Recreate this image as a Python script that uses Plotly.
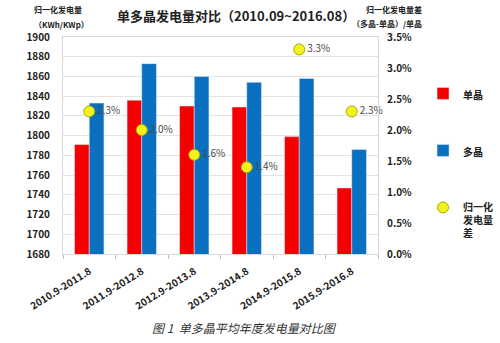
import plotly.graph_objects as go

categories = ["2010.9-2011.8", "2011.9-2012.8", "2012.9-2013.8",
              "2013.9-2014.8", "2014.9-2015.8", "2015.9-2016.8"]
mono = [1791, 1836, 1830, 1829, 1799, 1747]
poly = [1833, 1873, 1860, 1854, 1858, 1786]
diff = [0.023, 0.020, 0.016, 0.014, 0.033, 0.023]
diff_labels = ["2.3%", "2.0%", "1.6%", "1.4%", "3.3%", "2.3%"]

FONT = "Noto Sans CJK SC"
BOLD10 = dict(size=10, color="#222222", family=FONT, weight="bold")

fig = go.Figure()
fig.add_trace(go.Bar(x=categories, y=mono, name="<b>单晶</b>", marker_color="#F50000",
                     legendgroup="a"))
fig.add_trace(go.Bar(x=categories, y=poly, name="<b>多晶</b>", marker_color="#0A6FBF",
                     legendgroup="b"))
fig.add_trace(go.Scatter(x=categories, y=diff, yaxis="y2", name="<b>归一化<br>发电量<br>差</b>",
                         mode="markers+text", text=diff_labels, textposition="middle right",
                         textfont=dict(size=10, color="#4A4A4A", family=FONT),
                         marker=dict(size=11, color="#F2F21E", line=dict(color="#A8A800", width=1)),
                         cliponaxis=False, legendgroup="c"))

fig.update_layout(
    width=500, height=343,
    margin=dict(l=63, r=122, t=37, b=89, autoexpand=False),
    paper_bgcolor="white", plot_bgcolor="white",
    font=dict(family=FONT, color="#222222"),
    barmode="group", bargap=0.44, bargroupgap=0,
    showlegend=True,
    legend=dict(x=1.143, y=0.80, xanchor="left", yanchor="top", valign="top",
                tracegroupgap=38, font=dict(size=10, color="#222222", family=FONT),
                itemwidth=30, bgcolor="rgba(0,0,0,0)"),
    xaxis=dict(tickangle=-32, tickfont=BOLD10, ticklabelstandoff=7,
               ticks="outside", tickson="boundaries", ticklen=4, tickcolor="#BBBBBB",
               showline=True, linecolor="#D9D9D9", mirror=True, showgrid=False),
    yaxis=dict(range=[1680, 1900], dtick=20, tickfont=BOLD10, ticklabelstandoff=10,
               gridcolor="#E3E3E3", showline=True, linecolor="#D9D9D9", mirror=True,
               tickformat="d"),
    yaxis2=dict(range=[0, 0.035], dtick=0.005, tickformat=".1%", overlaying="y", side="right",
                showgrid=False, tickfont=BOLD10, ticklabelstandoff=8),
    annotations=[
        dict(text="<b>单多晶发电量对比（2010.09~2016.08）</b>", xref="paper", yref="paper",
             x=0.55, y=1.0, yshift=22, yanchor="middle", showarrow=False,
             font=dict(size=13, color="#222222")),
        dict(text="<b>归一化发电量</b>", xref="paper", yref="paper", x=-0.098, y=1.0, yshift=28,
             yanchor="middle", showarrow=False, font=dict(size=8, color="#222222")),
        dict(text="<b>（KWh/KWp）</b>", xref="paper", yref="paper", x=-0.098, y=1.0, yshift=13,
             yanchor="middle", showarrow=False, font=dict(size=8, color="#222222")),
        dict(text="<b>归一化发电量差</b>", xref="paper", yref="paper", x=1.146, y=1.0, yshift=28,
             yanchor="middle", showarrow=False, font=dict(size=8, color="#222222")),
        dict(text="<b>（多晶-单晶）/单晶</b>", xref="paper", yref="paper", x=1.146, y=1.0, yshift=14,
             yanchor="middle", showarrow=False, font=dict(size=8, color="#222222")),
        dict(text="<i>图 1  单多晶平均年度发电量对比图</i>", xref="paper", yref="paper",
             x=0.575, y=-0.341, yanchor="middle", showarrow=False,
             font=dict(size=12, color="#333333")),
    ],
)

fig.write_html("out.html")
